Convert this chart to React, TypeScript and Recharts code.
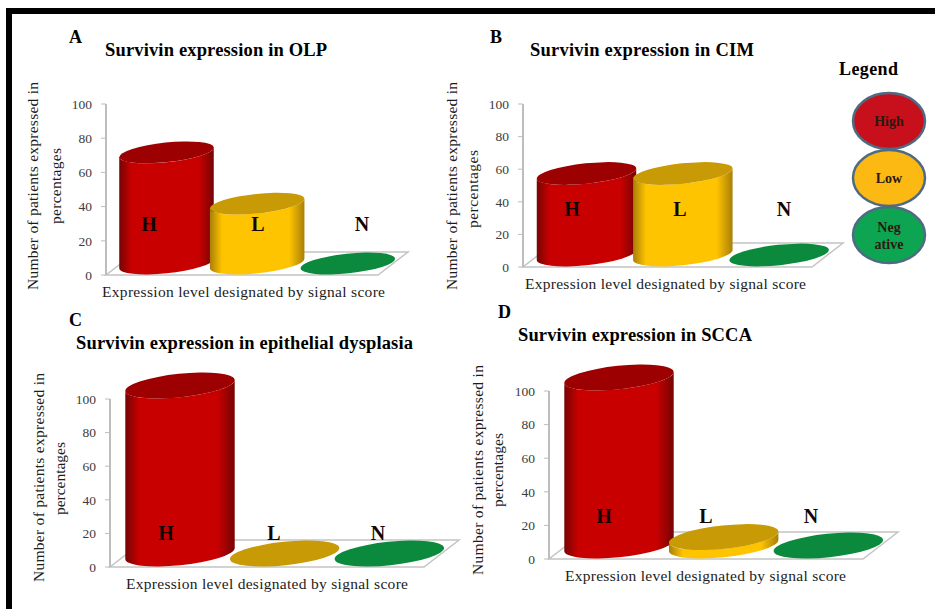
import { BarChart, Bar, XAxis, YAxis } from 'recharts';

const categories = ['H', 'L', 'N'];
const yTicks = [0, 20, 40, 60, 80, 100];
const olpValues = [65, 35, 0];
const cimValues = [50, 50, 0];
const dysplasiaValues = [100, 0, 0];
const sccaValues = [100, 5, 0];

const SERIF = '"Liberation Serif", "Times New Roman", serif';
const TILT = 6;

const topColors = ['#9c0000', '#c79a06', '#0b8a3e'];
const gradientIds = ['gradRed', 'gradGold', 'gradGreen'];

// geometry of each small chart, in page pixels
const panels = [
  { values: olpValues, axisX: 106, y100: 104, y0: 275, right: 378, dx: 30, dy: 23, cyl: 95, ry: 9.8 },
  { values: cimValues, axisX: 523, y100: 104, y0: 267, right: 812, dx: 31, dy: 24, cyl: 100, ry: 10.2 },
  { values: dysplasiaValues, axisX: 110, y100: 399, y0: 567, right: 424, dx: 35, dy: 27, cyl: 110, ry: 11.7 },
  { values: sccaValues, axisX: 549, y100: 391, y0: 559, right: 863, dx: 35, dy: 27, cyl: 110, ry: 11.7 },
];

function Cylinder(props: any) {
  const { x, y, width, height, index, dx, dy, cyl, ry } = props;
  const cx = x + width / 2 + dx / 2;
  const topY = y - dy / 2;
  const bottomY = y + height - dy / 2;
  const rx = cyl / 2;
  const th = (-TILT * Math.PI) / 180;
  // tangent points of the tilted ellipse, where the cylinder walls start
  const t = Math.atan((-ry / rx) * Math.tan(th));
  const ex = rx * Math.cos(t) * Math.cos(th) - ry * Math.sin(t) * Math.sin(th);
  const ey = rx * Math.cos(t) * Math.sin(th) + ry * Math.sin(t) * Math.cos(th);
  const body =
    `M${cx - ex} ${topY - ey} L${cx - ex} ${bottomY - ey} ` +
    `A${rx} ${ry} ${-TILT} 0 0 ${cx + ex} ${bottomY + ey} ` +
    `L${cx + ex} ${topY + ey} A${rx} ${ry} ${-TILT} 0 1 ${cx - ex} ${topY - ey} Z`;
  return (
    <g>
      {height > 0 && <path d={body} fill={`url(#${gradientIds[index]})`} />}
      <ellipse
        cx={cx}
        cy={topY}
        rx={rx}
        ry={ry}
        fill={topColors[index]}
        transform={`rotate(${-TILT} ${cx} ${topY})`}
      />
    </g>
  );
}

function SmallChart({ panel }: any) {
  const { values, axisX, y100, y0, right, dx, dy, cyl, ry } = panel;
  const left = axisX - 45;
  const top = y100 - 40;
  const w = right + dx + 30 - left;
  const h = y0 + 10 - top;
  const data = categories.map((name, i) => ({ name, value: values[i] }));
  const fx = axisX - left;
  const fr = right - left;
  const fy = y0 - top;
  return (
    <div style={{ position: 'absolute', left, top }}>
      <BarChart
        width={w}
        height={h}
        data={data}
        barCategoryGap={0}
        margin={{ left: 0, top: 40, right: w - fr, bottom: 10 }}
        style={{ overflow: 'visible' }}
      >
        <polygon
          points={`${fx},${fy} ${fr},${fy} ${fr + dx},${fy - dy} ${fx + dx},${fy - dy}`}
          fill="#ffffff"
          stroke="#c4c4c4"
          strokeWidth={1.5}
        />
        <XAxis dataKey="name" tick={false} tickLine={false} height={0} axisLine={{ stroke: '#bdbdbd', strokeWidth: 2 }} />
        <YAxis
          width={45}
          domain={[0, 100]}
          ticks={yTicks}
          interval={0}
          tickSize={5}
          tickMargin={9}
          axisLine={{ stroke: '#bdbdbd', strokeWidth: 2 }}
          tickLine={{ stroke: '#bdbdbd' }}
          tick={{ fontFamily: SERIF, fontSize: 13.5, fill: '#3c3c3c' }}
        />
        <Bar
          dataKey="value"
          isAnimationActive={false}
          shape={(p: any) => <Cylinder {...p} dx={dx} dy={dy} cyl={cyl} ry={ry} />}
        />
      </BarChart>
    </div>
  );
}

// x, y is the start of the text on its baseline; len is the width it must fill
function Txt({ x, y, len, size = 15.5, bold = false, fill = '#1c1c1c', rotate = false, children }: any) {
  return (
    <text
      x={x}
      y={y}
      fontFamily={SERIF}
      fontSize={size}
      fontWeight={bold ? 'bold' : 'normal'}
      fill={fill}
      textLength={len}
      lengthAdjust={len ? 'spacing' : undefined}
      transform={rotate ? `rotate(-90 ${x} ${y})` : undefined}
    >
      {children}
    </text>
  );
}

function Gradient({ id, edge, mid }: any) {
  return (
    <linearGradient id={id} x1="0" x2="1" y1="0" y2="0">
      <stop offset="0" stopColor={edge} />
      <stop offset="0.13" stopColor={mid} />
      <stop offset="0.84" stopColor={mid} />
      <stop offset="1" stopColor={edge} />
    </linearGradient>
  );
}

function LegendBlob({ cy, fill, lines }: any) {
  return (
    <g>
      <ellipse cx={889} cy={cy} rx={36} ry={28} fill={fill} stroke="#4f6b82" strokeWidth={2.5} />
      {lines.map((line: string, i: number) => (
        <text
          key={line}
          x={889}
          y={cy + 5 + (i - (lines.length - 1) / 2) * 17}
          textAnchor="middle"
          fontFamily={SERIF}
          fontSize={14}
          fontWeight="bold"
          fill="#2a1a10"
        >
          {line}
        </text>
      ))}
    </g>
  );
}

export default function App() {
  return (
    <div style={{ position: 'absolute', left: 0, top: 0, width: 935, height: 609, background: '#fff', overflow: 'hidden' }}>
      <div style={{ position: 'absolute', left: 6, top: 8, width: 929, height: 6, background: '#000' }} />
      <div style={{ position: 'absolute', left: 6, top: 8, width: 6, height: 601, background: '#000' }} />

      <svg width={0} height={0} style={{ position: 'absolute' }}>
        <defs>
          <Gradient id="gradRed" edge="#760404" mid="#c80000" />
          <Gradient id="gradGold" edge="#a97f08" mid="#ffc400" />
          <Gradient id="gradGreen" edge="#075c2a" mid="#0b8a3e" />
        </defs>
      </svg>

      {panels.map((panel, i) => (
        <SmallChart key={i} panel={panel} />
      ))}

      <svg width={935} height={609} style={{ position: 'absolute', left: 0, top: 0, pointerEvents: 'none' }}>
        <Txt x={69} y={43} size={18} bold fill="#000">A</Txt>
        <Txt x={105} y={56} len={222} size={18.5} bold fill="#000">Survivin expression in OLP</Txt>
        <Txt x={490} y={43} size={18} bold fill="#000">B</Txt>
        <Txt x={530} y={56} len={224} size={18.5} bold fill="#000">Survivin expression in CIM</Txt>
        <Txt x={69} y={326} size={18} bold fill="#000">C</Txt>
        <Txt x={76} y={349} len={337} size={18.5} bold fill="#000">Survivin expression in epithelial dysplasia</Txt>
        <Txt x={498} y={318} size={18} bold fill="#000">D</Txt>
        <Txt x={518} y={341} len={234} size={18.5} bold fill="#000">Survivin expression in SCCA</Txt>

        <Txt x={38} y={290} len={208} rotate>Number of patients expressed in</Txt>
        <Txt x={61} y={224} len={76} rotate>percentages</Txt>
        <Txt x={457} y={290} len={208} rotate>Number of patients expressed in</Txt>
        <Txt x={478} y={228} len={78} rotate>percentages</Txt>
        <Txt x={44} y={582} len={209} rotate>Number of patients expressed in</Txt>
        <Txt x={65} y={515} len={73} rotate>percentages</Txt>
        <Txt x={483} y={575} len={210} rotate>Number of patients expressed in</Txt>
        <Txt x={503} y={507} len={74} rotate>percentages</Txt>

        <Txt x={102} y={297} len={283}>Expression level designated by signal score</Txt>
        <Txt x={525} y={289} len={281}>Expression level designated by signal score</Txt>
        <Txt x={126} y={589} len={282}>Expression level designated by signal score</Txt>
        <Txt x={565} y={581} len={281}>Expression level designated by signal score</Txt>

        {[
          [149, 231],
          [258, 231],
          [362, 231],
          [572, 216],
          [680, 216],
          [784, 216],
          [166, 540],
          [274, 540],
          [378, 540],
          [604, 523],
          [706, 523],
          [811, 523],
        ].map(([x, y], i) => (
          <text key={i} x={x} y={y} textAnchor="middle" fontFamily={SERIF} fontSize={20} fontWeight="bold" fill="#140505">
            {categories[i % 3]}
          </text>
        ))}

        <Txt x={839} y={75} len={59} size={18} bold fill="#000">Legend</Txt>
        <LegendBlob cy={121} fill="#c8101c" lines={['High']} />
        <LegendBlob cy={178} fill="#fdb913" lines={['Low']} />
        <LegendBlob cy={235} fill="#0ea552" lines={['Neg', 'ative']} />
      </svg>
    </div>
  );
}
